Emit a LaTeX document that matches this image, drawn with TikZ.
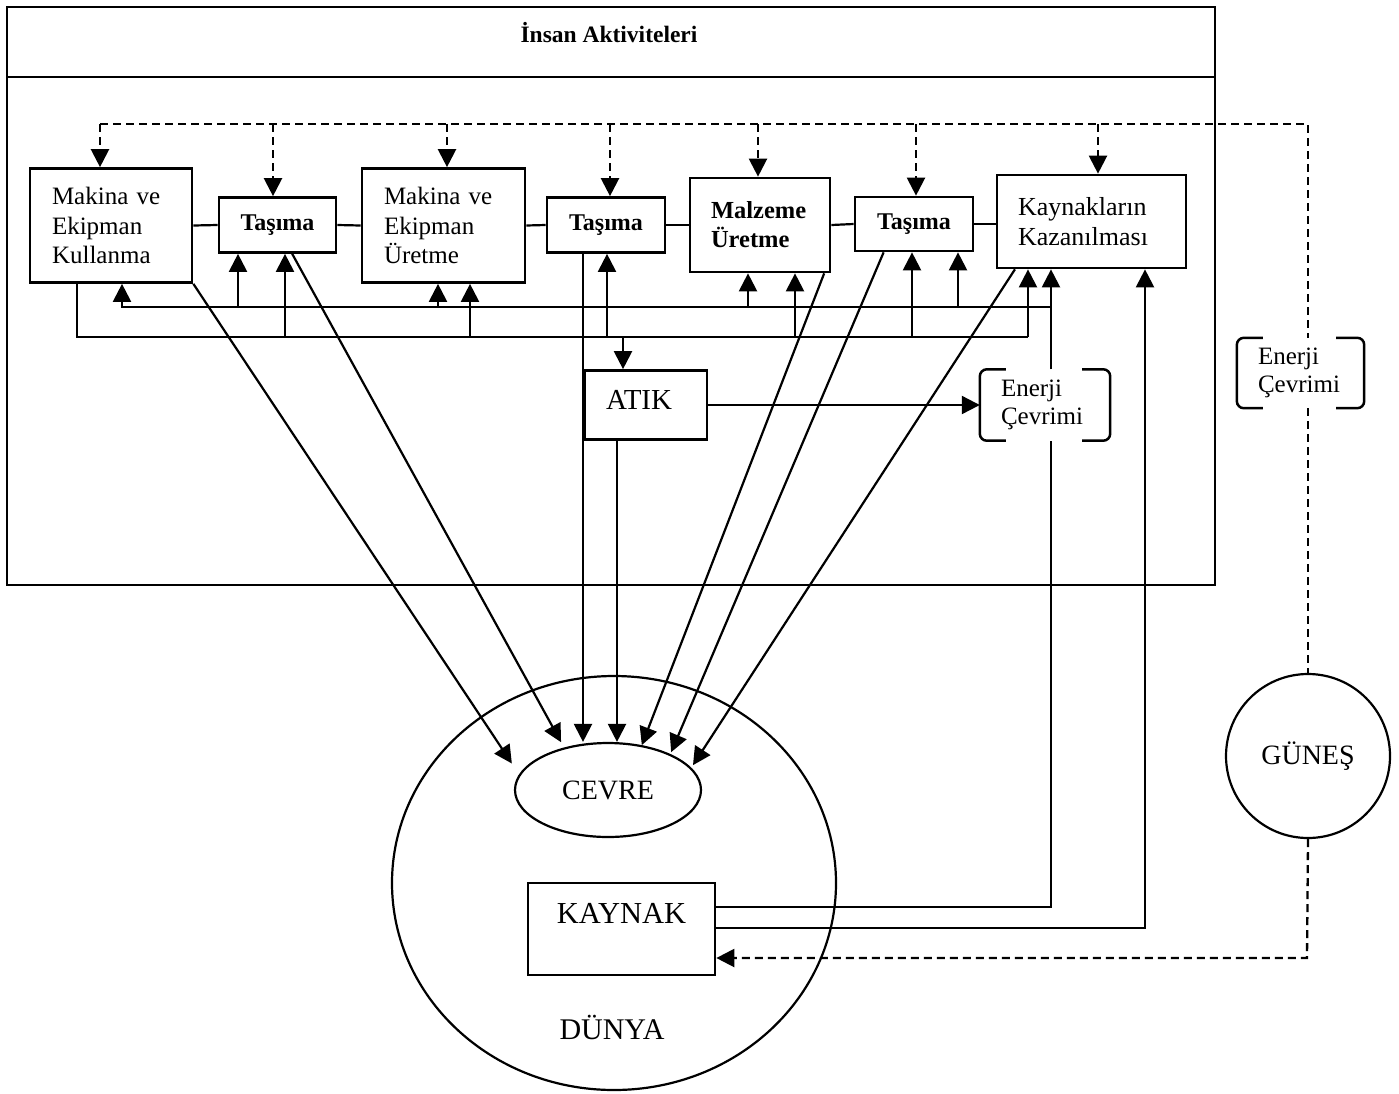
\documentclass[tikz,border=0pt]{standalone}
\usepackage{fontspec}
\setmainfont{Liberation Serif}
\usetikzlibrary{arrows.meta,shapes.geometric}
% font sizes used in the diagram
\newcommand\bxfont{\fontsize{25}{29.5}\selectfont}
\newcommand\kkfont{\fontsize{26}{29.5}\selectfont}
\newcommand\tsfont{\fontsize{24}{28}\selectfont\bfseries}
\newcommand\mzfont{\fontsize{24.5}{29}\selectfont\bfseries}
\newcommand\ecfont{\fontsize{25}{28}\selectfont}
\newcommand\ttlfont{\fontsize{23.5}{27}\selectfont\bfseries}
\newcommand\kyfont{\fontsize{30.5}{36}\selectfont}
\newcommand\atfont{\fontsize{29}{32}\selectfont}
\newcommand\cvfont{\fontsize{28}{31}\selectfont}
\newcommand\dnfont{\fontsize{30}{34}\selectfont}
\newcommand\gnfont{\fontsize{28}{31}\selectfont}
\begin{document}
\begin{tikzpicture}[x=1pt,y=-1pt,
  ln/.style={line width=2.2pt},
  dsh/.style={line width=2.3pt, dash pattern=on 8pt off 5pt},
  arr/.style={-{Triangle[length=18pt,width=18pt]}},
  boxnode/.style={draw, rectangle, line width=2.7pt, inner sep=0pt},
  txtbox/.style={boxnode, align=left, font=\bxfont},
  bk/.style={line width=2.5pt, rounded corners=7pt},
  ecnode/.style={rectangle, minimum width=130pt, minimum height=71pt, text width=88pt,
                 inner xsep=21pt, inner ysep=0pt, align=left, font=\ecfont},
  round/.style={draw, line width=2.2pt, inner sep=0pt}]
\useasboundingbox (0,0) rectangle (1399,1093);

% frame of human activities
\node[draw, line width=2.5pt, minimum width=1208pt, minimum height=578pt, inner sep=0pt] (insan) at (611,296) {};
\coordinate (sep) at (7,77);
\draw[line width=2.5pt] (sep) -- (sep -| insan.east);
\node[font=\ttlfont] (title) at (609,33) {İnsan Aktiviteleri};

% process boxes
\node[txtbox, text width=118pt, inner xsep=22pt, minimum height=114pt] (m1) at (111,225.5) {Makina ve\\Ekipman\\Kullanma};
\node[boxnode, font=\tsfont, minimum width=117pt, minimum height=55pt] (t1) at (277.5,225) {Taşıma};
\node[txtbox, text width=119pt, inner xsep=22pt, minimum height=114pt] (m2) at (443.5,225.5) {Makina ve\\Ekipman\\Üretme};
\node[boxnode, font=\tsfont, minimum width=118pt, minimum height=55pt] (t2) at (606,225) {Taşıma};
\node[boxnode, font=\mzfont, align=left, text width=98pt, inner xsep=21pt, minimum height=94pt] (mz) at (760,225) {Malzeme\\Üretme};
\node[boxnode, font=\tsfont, minimum width=118pt, minimum height=54pt] (t3) at (914,224) {Taşıma};
\node[boxnode, align=left, font=\kkfont, text width=147pt, inner xsep=21pt, minimum height=93pt] (kk) at (1091.5,221.5) {Kaynakların\\Kazanılması};

\node[boxnode, font=\atfont, align=left, text width=80pt, inner xsep=21pt, minimum height=69pt,
      text height=19pt, text depth=10pt] (atik) at (646,405) {ATIK};

% energy cycle nodes with bracket outlines
\node[ecnode] (ec1) at (1045,405) {Enerji\\Çevrimi};
\node[ecnode, minimum width=127pt, text width=85pt, minimum height=70pt] (ec2) at (1300.5,373) {Enerji\\Çevrimi};
\foreach \e in {ec1,ec2}{
  \draw[bk] ([xshift=26pt]\e.north west) -- (\e.north west) -- (\e.south west) -- ([xshift=26pt]\e.south west);
  \draw[bk] ([xshift=-28pt]\e.north east) -- (\e.north east) -- (\e.south east) -- ([xshift=-28pt]\e.south east);
}

% earth, environment, resource, sun
\node[round, ellipse, minimum width=444pt, minimum height=414pt] (dunya) at (614,883) {};
\node[font=\dnfont] (dunyalbl) at (612,1027) {DÜNYA};
\node[round, ellipse, minimum width=186pt, minimum height=94pt, font=\cvfont] (cevre) at (608,790) {CEVRE};
\node[boxnode, font=\kyfont, minimum width=187pt, text height=21pt, text depth=33pt, inner ysep=19pt] (kaynak) at (621.5,929) {KAYNAK};
\node[round, circle, minimum size=164pt, font=\gnfont] (gunes) at (1308,756) {GÜNEŞ};

% chain links between boxes
\draw[ln] (m1.east) -- (t1.west);
\draw[ln] (t1.east) -- (m2.west);
\draw[ln] (m2.east) -- (t2.west);
\draw[ln] (t2.east) -- (mz.west);
\draw[ln] (mz.east) -- (t3.west);
\draw[ln] (t3.east) -- (t3.east -| kk.west);

% dashed energy line from the sun
\coordinate (d1) at (100,124);
\coordinate (d2) at (273,124);
\coordinate (d3) at (447,124);
\coordinate (d4) at (610,124);
\coordinate (d5) at (758,124);
\coordinate (d6) at (916,124);
\coordinate (d7) at (1098,124);
\coordinate (dR) at (1308,124);
\draw[dsh] (d1) -- (dR) -- (dR |- ec2.north);
\draw[dsh] (dR |- ec2.south) -- (gunes.north);
\draw[dsh,arr] (d1) -- (d1 |- m1.north);
\draw[dsh,arr] (d2) -- (d2 |- t1.north);
\draw[dsh,arr] (d3) -- (d3 |- m2.north);
\draw[dsh,arr] (d4) -- (d4 |- t2.north);
\draw[dsh,arr] (d5) -- (d5 |- mz.north);
\draw[dsh,arr] (d6) -- (d6 |- t3.north);
\draw[dsh,arr] (d7) -- (d7 |- kk.north);
\coordinate (k3) at (1307,958);
\draw[dsh,arr] (gunes.south) -- (k3) -- (k3 -| kaynak.east);

% two supply buses under the boxes
\coordinate (ub0) at (122,307);
\coordinate (ub1) at (1051,307);
\coordinate (lb0) at (77,337);
\coordinate (lb1) at (1028,337);
\draw[ln] (m1.south -| lb0) -- (lb0) -- (lb1);
\draw[ln,arr] (lb1) -- (lb1 |- kk.south);
\draw[ln,arr] (ub1) -- (ub0) -- (ub0 |- m1.south);
\draw[ln,arr] (ec1.north -| ub1) -- (ub1 |- kk.south);

\coordinate (u1) at (238,307);
\coordinate (u2) at (438,307);
\coordinate (u3) at (748,307);
\coordinate (u4) at (958,307);
\coordinate (l1) at (285,337);
\coordinate (l2) at (470,337);
\coordinate (l3) at (607,337);
\coordinate (l4) at (623,337);
\coordinate (l5) at (795,337);
\coordinate (l6) at (912,337);
\draw[ln,arr] (u1) -- (u1 |- t1.south);
\draw[ln,arr] (u2) -- (u2 |- m2.south);
\draw[ln,arr] (u3) -- (u3 |- mz.south);
\draw[ln,arr] (u4) -- (u4 |- t3.south);
\draw[ln,arr] (l1) -- (l1 |- t1.south);
\draw[ln,arr] (l2) -- (l2 |- m2.south);
\draw[ln,arr] (l3) -- (l3 |- t2.south);
\draw[ln,arr] (l5) -- (l5 |- mz.south);
\draw[ln,arr] (l6) -- (l6 |- t3.south);
\draw[ln,arr] (l4) -- (l4 |- atik.north);

% waste to energy cycle
\draw[ln,arr] (atik.east) -- (atik.east -| ec1.west);

% flows into the environment
\coordinate (cx3) at (583,790);
\coordinate (cx4) at (617,790);
\draw[ln,arr] (t2.south -| cx3) -- (cx3 |- cevre.north);
\draw[ln,arr] (atik.south -| cx4) -- (cx4 |- cevre.north);
\draw[ln,arr,shorten >=13pt] (m1.south east) -- (cevre.170);
\draw[ln,arr,shorten >=6pt] (t1.-63) -- (cevre.136);
\draw[ln,arr] (mz.-37) -- (cevre.53);
\draw[ln,arr,shorten >=2pt] (t3.-137) -- (cevre.30);
\draw[ln,arr,shorten >=3pt] (kk.-148) -- (cevre.15);

% resource flows back up
\coordinate (k1) at (1051,907);
\coordinate (k2) at (1145,928);
\draw[ln] (k1 -| kaynak.east) -- (k1) -- (k1 |- ec1.south);
\draw[ln,arr] (k2 -| kaynak.east) -- (k2) -- (k2 |- kk.south);
\end{tikzpicture}
\end{document}
